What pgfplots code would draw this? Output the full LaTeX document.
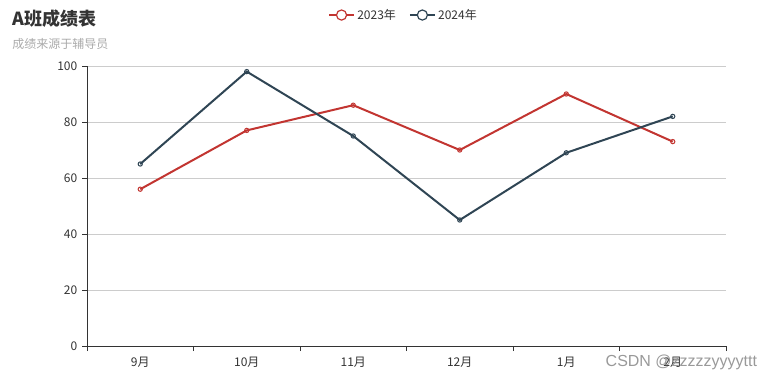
\documentclass[border=0pt]{standalone}
\usepackage{pgfplots}
\pgfplotsset{compat=1.18}
\usepackage{fontspec}
\setmainfont{Noto Sans CJK SC}
\newfontfamily\wmfont{Liberation Sans}
\definecolor{cA}{HTML}{C23531}
\definecolor{cB}{HTML}{2F4554}
\definecolor{ctxt}{HTML}{333333}
\definecolor{cgrid}{HTML}{CCCCCC}
\definecolor{csub}{HTML}{AAAAAA}
\begin{document}
\begin{tikzpicture}
\useasboundingbox (0pt,0pt) rectangle (580.5pt,-288.75pt);
\node[anchor=west, font=\fontsize{13.5}{15}\selectfont\bfseries, text=ctxt, inner sep=0pt] at (9pt,-14pt) {A班成绩表};
\node[anchor=west, font=\fontsize{9}{10}\selectfont, text=csub, inner sep=0pt] at (9pt,-33pt) {成绩来源于辅导员};
\begin{axis}[
  at={(65.25pt,-259.5pt)}, anchor=south west,
  scale only axis, width=479.25pt, height=210pt,
  xmin=-0.5, xmax=5.5, ymin=0, ymax=100,
  axis x line=bottom, axis y line=left,
  axis line style={-, color=ctxt, line width=0.75pt},
  tick align=outside,
  xtick={0,...,5}, xticklabels={9月,10月,11月,12月,1月,2月},
  minor xtick={-0.5,0.5,...,5.5},
  major x tick style={draw=none},
  minor x tick style={color=ctxt, line width=0.75pt},
  major y tick style={color=ctxt, line width=0.75pt},
  major tick length=3.75pt, minor tick length=3.75pt,
  ytick={0,20,...,100},
  ymajorgrids, grid style={color=cgrid, line width=0.75pt},
  ticklabel style={font=\fontsize{9}{10}\selectfont, text=ctxt},
  /pgf/number format/assume math mode=true,
  xticklabel style={yshift=-1pt},
  legend columns=2,
  legend style={at={(axis description cs:0.496,1.182)}, anchor=center, draw=none, fill=none,
    font=\fontsize{9}{10}\selectfont, text=ctxt,
    /tikz/every even column/.append style={column sep=8pt}},
  legend image code/.code={
    \draw[#1, line width=0.9pt] (0pt,0pt) -- (18.75pt,0pt);
    \draw[#1, line width=0.9pt, fill=white] (9.375pt,0pt) circle (3.8pt);
  },
  clip=false,
]
\addplot[color=cA, line width=1.5pt, mark=o, mark size=1.6pt, mark options={fill=white, line width=0.75pt}]
  coordinates {(0,56) (1,77) (2,86) (3,70) (4,90) (5,73)};
\addlegendentry{2023年}
\addplot[color=cB, line width=1.5pt, mark=o, mark size=1.6pt, mark options={fill=white, line width=0.75pt}]
  coordinates {(0,65) (1,98) (2,75) (3,45) (4,69) (5,82)};
\addlegendentry{2024年}
\end{axis}
\node[anchor=east, font=\wmfont\fontsize{12}{13}\selectfont, text=gray!80, inner sep=0pt] at (568pt,-272pt) {CSDN @zzzzzyyyyttt};
\end{tikzpicture}
\end{document}
